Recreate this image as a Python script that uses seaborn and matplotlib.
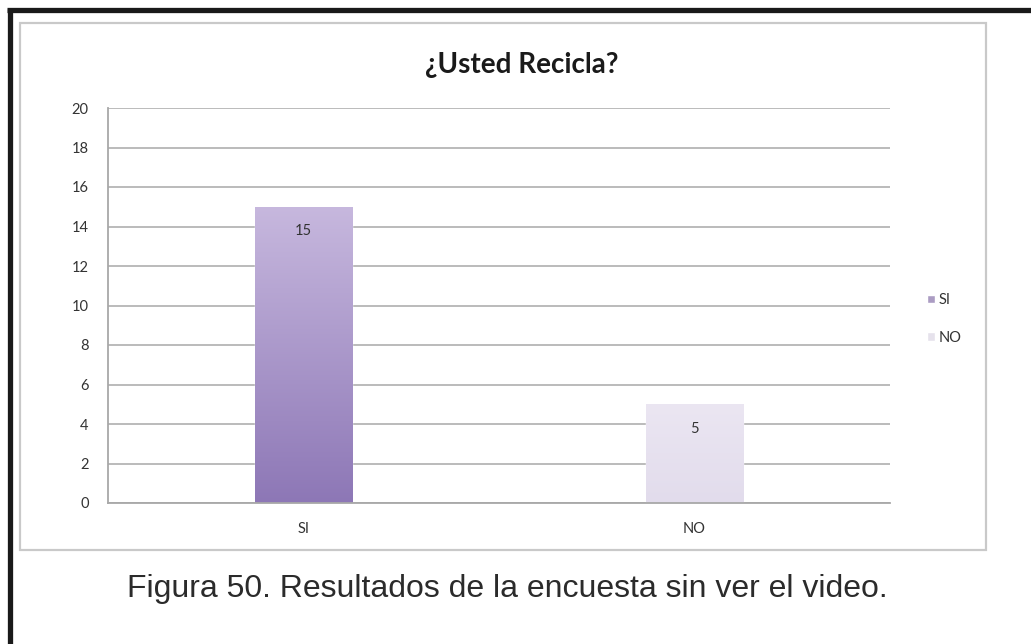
import numpy as np
import pandas as pd
import matplotlib.pyplot as plt
import seaborn as sns
from matplotlib.patches import Rectangle
from matplotlib.lines import Line2D
from matplotlib.colors import LinearSegmentedColormap

sns.set_style("white")
plt.rcParams['font.family'] = ['Lato', 'DejaVu Sans']

# data
categories = ["SI", "NO"]
counts = [15, 5]
title = "¿Usted Recicla?"
caption = "Figura 50. Resultados de la encuesta sin ver el video."
y_ticks = list(range(0, 21, 2))

colors = {"SI": "#a995c9", "NO": "#e6e0ee"}
# gradient (top -> bottom) for each bar
gradients = {"SI": ["#c7b8de", "#8d77b6"], "NO": ["#ebe6f2", "#e2dcec"]}

df = pd.DataFrame({"resp": categories, "n": counts})

fig = plt.figure(figsize=(10.31, 6.44), dpi=100)
W, H = 1031, 644

# outer frame (top + left black) and chart box
fig.add_artist(Line2D([9.5 / W, 9.5 / W], [0, 1 - 9 / H], color="#1a1a1a", lw=3.8,
                      transform=fig.transFigure, solid_capstyle="butt"))
fig.add_artist(Line2D([7 / W, 1], [1 - 9.5 / H, 1 - 9.5 / H], color="#1a1a1a", lw=3.8,
                      transform=fig.transFigure, solid_capstyle="butt"))
fig.add_artist(Rectangle((20 / W, 1 - 550 / H), (986 - 20) / W, (550 - 23) / H,
                         transform=fig.transFigure, fill=False,
                         edgecolor="#c9c9c9", lw=1.6))

ax = fig.add_axes([108 / W, 1 - 503 / H, (890 - 108) / W, (503 - 108) / H])
sns.barplot(data=df, x="resp", y="n", hue="resp", palette=colors,
            width=0.25, ax=ax, legend=True)

ax.set_ylim(0, 20)
ax.set_yticks(y_ticks)
ax.yaxis.grid(True, color="#b5b5b5", lw=1.3)
ax.set_axisbelow(True)
for s in ["top", "right"]:
    ax.spines[s].set_visible(False)
ax.spines["left"].set_color("#a8a8a8")
ax.spines["bottom"].set_color("#a8a8a8")
ax.spines["left"].set_linewidth(1.3)
ax.spines["bottom"].set_linewidth(1.3)
ax.tick_params(axis="y", length=5, color="#a8a8a8", labelsize=10.5,
               labelcolor="#333333", pad=9)
ax.tick_params(axis="x", length=0, labelsize=10.5, labelcolor="#333333", pad=14)
ax.set_xlabel("")
ax.set_ylabel("")

# gradient fill clipped to each bar
for patch, cat, val in zip(ax.patches, categories, counts):
    cmap = LinearSegmentedColormap.from_list(cat, gradients[cat])
    x0 = patch.get_x()
    grad = np.linspace(0, 1, 256).reshape(-1, 1)
    im = ax.imshow(grad, cmap=cmap, aspect="auto", origin="upper",
                   extent=[x0, x0 + patch.get_width(), 0, patch.get_height()],
                   zorder=patch.get_zorder() + 0.1)
    im.set_clip_path(patch)
    ax.text(x0 + patch.get_width() / 2, val - 1.25, str(val), ha="center",
            va="center", fontsize=10.5, color="#333333", zorder=5)

ax.set_xlim(-0.5, 1.5)

leg = ax.legend(loc="center left", bbox_to_anchor=(920 / W, 1 - 319 / H),
                bbox_transform=fig.transFigure, frameon=False, fontsize=10.5,
                handlelength=0.5, handleheight=0.5, handletextpad=0.3,
                labelspacing=1.6, borderpad=0)
for t in leg.get_texts():
    t.set_color("#333333")

fig.text(522 / W, 1 - 65 / H, title, ha="center", va="center",
         fontsize=20, fontweight="bold", color="#1a1a1a")
fig.text(507 / W, 1 - 589 / H, caption, ha="center", va="center",
         fontsize=23, color="#2b2b2b",
         family=["Liberation Sans", "DejaVu Sans"])

fig.savefig("out.png", dpi=100)
